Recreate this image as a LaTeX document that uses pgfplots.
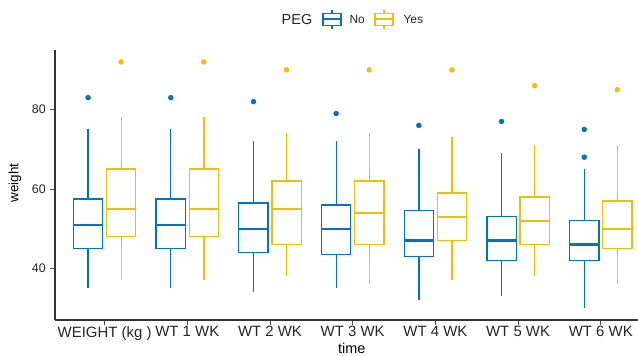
\documentclass[border=0pt]{standalone}
\usepackage{pgfplots}
\pgfplotsset{compat=1.18}
\usepackage{fontspec}
\setmainfont{Liberation Sans}
\definecolor{cNo}{HTML}{0073C2}
\definecolor{cYes}{HTML}{EFC000}
% box: left x, centre x, right x, lower whisker, lower quartile, median, upper quartile, upper whisker, colour
\newcommand{\bx}[9]{%
  \addplot[#9, line width=1.3bp] coordinates {(#2,#4) (#2,#5)};
  \addplot[#9, line width=1.3bp] coordinates {(#2,#7) (#2,#8)};
  \addplot[draw=#9, fill=white, line width=1.3bp] coordinates {(#1,#5) (#3,#5) (#3,#7) (#1,#7)} -- cycle;
  \addplot[#9, line width=2.3bp] coordinates {(#1,#6) (#3,#6)};
}
\begin{document}
\begin{tikzpicture}
\useasboundingbox (0bp,0bp) rectangle (638bp,356bp);
\begin{axis}[
  at={(55bp,36bp)}, anchor=south west,
  scale only axis, width=583bp, height=270bp,
  xmin=-0.6, xmax=6.45, ymin=27, ymax=95,
  axis lines=left,
  axis line style={-, line width=1.1bp, black!80},
  tick style={black!70, line width=0.9bp},
  tick align=outside, major tick length=5bp,
  xtick={0,1,2,3,4,5,6},
  xticklabels={WEIGHT (kg ),WT 1 WK,WT 2 WK,WT 3 WK,WT 4 WK,WT 5 WK,WT 6 WK},
  ytick={40,60,80},
  xticklabel style={font=\fontsize{15}{15}\selectfont, text=black!85, inner sep=1bp},
  yticklabel style={font=\fontsize{12.5}{12.5}\selectfont, text=black!85, inner sep=1.5bp, xshift=-2.5bp},
  /pgf/number format/assume math mode=true,
  xlabel={time}, ylabel={weight},
  every axis x label/.style={at={(axis description cs:0.509,-0.104)}, anchor=center, font=\fontsize{14.5}{14.5}\selectfont},
  every axis y label/.style={at={(axis description cs:-0.0686,0.507)}, anchor=center, rotate=90, font=\fontsize{13.5}{13.5}\selectfont},
  clip=false,
]
% PEG = No
\bx{-0.3775}{-0.2}{-0.0225}{35}{45}{51}{57.5}{75}{cNo}
\bx{0.6225}{0.8}{0.9775}{35}{45}{51}{57.5}{75}{cNo}
\bx{1.6225}{1.8}{1.9775}{34}{44}{50}{56.5}{72}{cNo}
\bx{2.6225}{2.8}{2.9775}{35}{43.5}{50}{56}{72}{cNo}
\bx{3.6225}{3.8}{3.9775}{32}{43}{47}{54.5}{70}{cNo}
\bx{4.6225}{4.8}{4.9775}{33}{42}{47}{53}{69}{cNo}
\bx{5.6225}{5.8}{5.9775}{30}{42}{46}{52}{65}{cNo}
% PEG = Yes
\bx{0.0225}{0.2}{0.3775}{37}{48}{55}{65}{78}{cYes}
\bx{1.0225}{1.2}{1.3775}{37}{48}{55}{65}{78}{cYes}
\bx{2.0225}{2.2}{2.3775}{38}{46}{55}{62}{74}{cYes}
\bx{3.0225}{3.2}{3.3775}{36}{46}{54}{62}{74}{cYes}
\bx{4.0225}{4.2}{4.3775}{37}{47}{53}{59}{73}{cYes}
\bx{5.0225}{5.2}{5.3775}{38}{46}{52}{58}{71}{cYes}
\bx{6.0225}{6.2}{6.3775}{36}{45}{50}{57}{71}{cYes}
% outliers
\addplot[only marks, mark=*, mark size=2.5bp, color=cNo, mark options={draw=none, fill=cNo}]
  coordinates {(-0.2,83) (0.8,83) (1.8,82) (2.8,79) (3.8,76) (4.8,77) (5.8,75) (5.8,68)};
\addplot[only marks, mark=*, mark size=2.5bp, color=cYes, mark options={draw=none, fill=cYes}]
  coordinates {(0.2,92) (1.2,92) (2.2,90) (3.2,90) (4.2,90) (5.2,86) (6.2,85)};
\end{axis}
% legend
\begin{scope}[x=1bp,y=1bp]
\node[anchor=center, font=\fontsize{14.5}{14.5}\selectfont, text=black!85] at (297,336.7) {PEG};
\draw[cNo, line width=1.2bp] (332,346) -- (332,327);
\draw[cNo, fill=white, line width=1.2bp] (323,330.3) rectangle (341,342.7);
\draw[cNo, line width=2bp] (323,336.7) -- (341,336.7);
\node[anchor=west, inner sep=0pt, font=\fontsize{12}{12}\selectfont, text=black!85] at (349.3,336.7) {No};
\draw[cYes, line width=1.2bp] (384,346) -- (384,327);
\draw[cYes, fill=white, line width=1.2bp] (375,330.3) rectangle (393,342.7);
\draw[cYes, line width=2bp] (375,336.7) -- (393,336.7);
\node[anchor=west, inner sep=0pt, font=\fontsize{12}{12}\selectfont, text=black!85] at (403.3,336.7) {Yes};
\end{scope}
\end{tikzpicture}
\end{document}
